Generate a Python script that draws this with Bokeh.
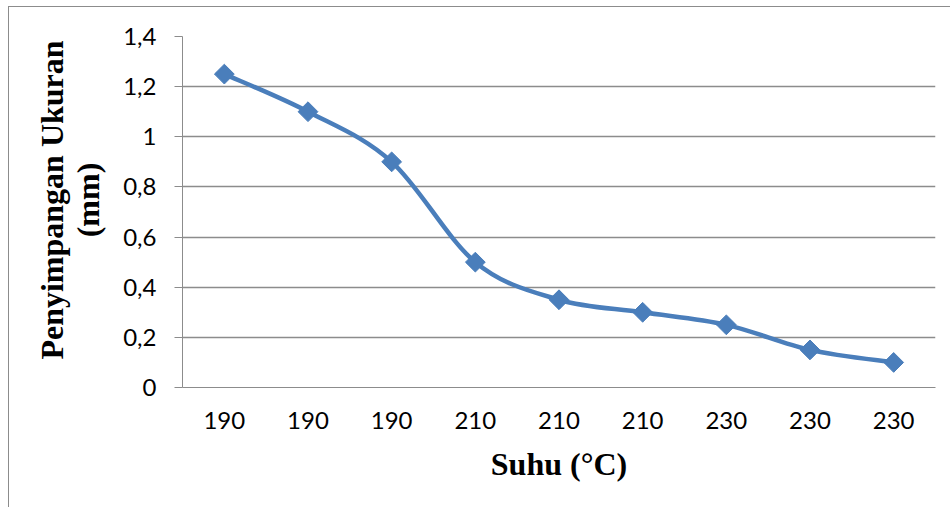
from bokeh.plotting import figure
from bokeh.models import FixedTicker, CustomJSTickFormatter, ColumnDataSource, Range1d
from bokeh.embed import file_html
from bokeh.resources import INLINE

# Data
categories = ["190", "190", "190", "210", "210", "210", "230", "230", "230"]
deviation = [1.25, 1.1, 0.9, 0.5, 0.35, 0.3, 0.25, 0.15, 0.1]
y_ticks = [0, 0.2, 0.4, 0.6, 0.8, 1.0, 1.2, 1.4]

x_pos = list(range(1, len(categories) + 1))

LINE_COLOR = "#4A7EBB"
GRID = "#8C8C8C"

p = figure(width=942, height=501, output_backend="svg", toolbar_location=None,
           x_range=Range1d(0.5, len(categories) + 0.5), y_range=Range1d(0, 1.4),
           min_border_left=173, min_border_right=16, min_border_top=29, min_border_bottom=121)
p.outline_line_color = None
p.styles = {"border-left": "1px solid #8C8C8C", "border-top": "1px solid #8C8C8C",
            "margin-left": "8px", "margin-top": "6px"}

# Smooth (Catmull-Rom style) bezier segments computed from data
x0, y0, x1, y1, cx0, cy0, cx1, cy1 = [], [], [], [], [], [], [], []
n = len(deviation)
for i in range(n - 1):
    xm1, ym1 = (x_pos[i - 1], deviation[i - 1]) if i > 0 else (x_pos[i], deviation[i])
    xp2, yp2 = (x_pos[i + 2], deviation[i + 2]) if i + 2 < n else (x_pos[i + 1], deviation[i + 1])
    x0.append(x_pos[i]); y0.append(deviation[i])
    x1.append(x_pos[i + 1]); y1.append(deviation[i + 1])
    cx0.append(x_pos[i] + (x_pos[i + 1] - xm1) / 6)
    cy0.append(deviation[i] + (deviation[i + 1] - ym1) / 6)
    cx1.append(x_pos[i + 1] - (xp2 - x_pos[i]) / 6)
    cy1.append(deviation[i + 1] - (yp2 - deviation[i]) / 6)

p.bezier(x0=x0, y0=y0, x1=x1, y1=y1, cx0=cx0, cy0=cy0, cx1=cx1, cy1=cy1,
         line_color=LINE_COLOR, line_width=4.5)

src = ColumnDataSource(dict(x=x_pos, y=deviation))
p.scatter("x", "y", source=src, marker="square", angle=0.785398, size=14,
          fill_color=LINE_COLOR, line_color=LINE_COLOR)

# Axes
p.xaxis.ticker = FixedTicker(ticks=x_pos)
p.xaxis.major_label_overrides = {xp: c for xp, c in zip(x_pos, categories)}
p.xaxis.major_tick_out = 0
p.xaxis.major_tick_in = 0
p.xaxis.minor_tick_out = 0
p.xaxis.minor_tick_in = 0
p.xaxis.axis_line_color = GRID
p.xaxis.major_label_standoff = 24
p.xaxis.axis_label = "Suhu (°C)"
p.xaxis.axis_label_standoff = 14

p.yaxis.ticker = FixedTicker(ticks=y_ticks)
p.yaxis.formatter = CustomJSTickFormatter(code="""
    const s = (Math.round(tick * 10) / 10).toString();
    return s.replace('.', ',');
""")
p.yaxis.major_tick_out = 8
p.yaxis.major_tick_in = 0
p.yaxis.minor_tick_out = 0
p.yaxis.minor_tick_in = 0
p.yaxis.major_tick_line_color = GRID
p.yaxis.axis_line_color = GRID
p.yaxis.major_label_standoff = 18
p.yaxis.axis_label = "\u00a0\u00a0\u00a0Penyimpangan Ukuran\n\u00a0\u00a0\u00a0(mm)"
p.yaxis.axis_label_standoff = 14
p.yaxis.axis_label_text_line_height = 1.0

for ax in (p.xaxis[0], p.yaxis[0]):
    ax.major_label_text_font = "Lato"
    ax.major_label_text_font_size = "24px"
    ax.major_label_text_color = "#000000"
    ax.axis_label_text_font = "Liberation Serif"
    ax.axis_label_text_font_style = "bold"
    ax.axis_label_text_font_size = "32px"
    ax.axis_label_text_color = "#000000"

p.xgrid.grid_line_color = None
p.ygrid.ticker = FixedTicker(ticks=y_ticks)
p.ygrid.grid_line_color = GRID
p.ygrid.grid_line_width = 1.5

open("out.html", "w").write(file_html(p, INLINE))
